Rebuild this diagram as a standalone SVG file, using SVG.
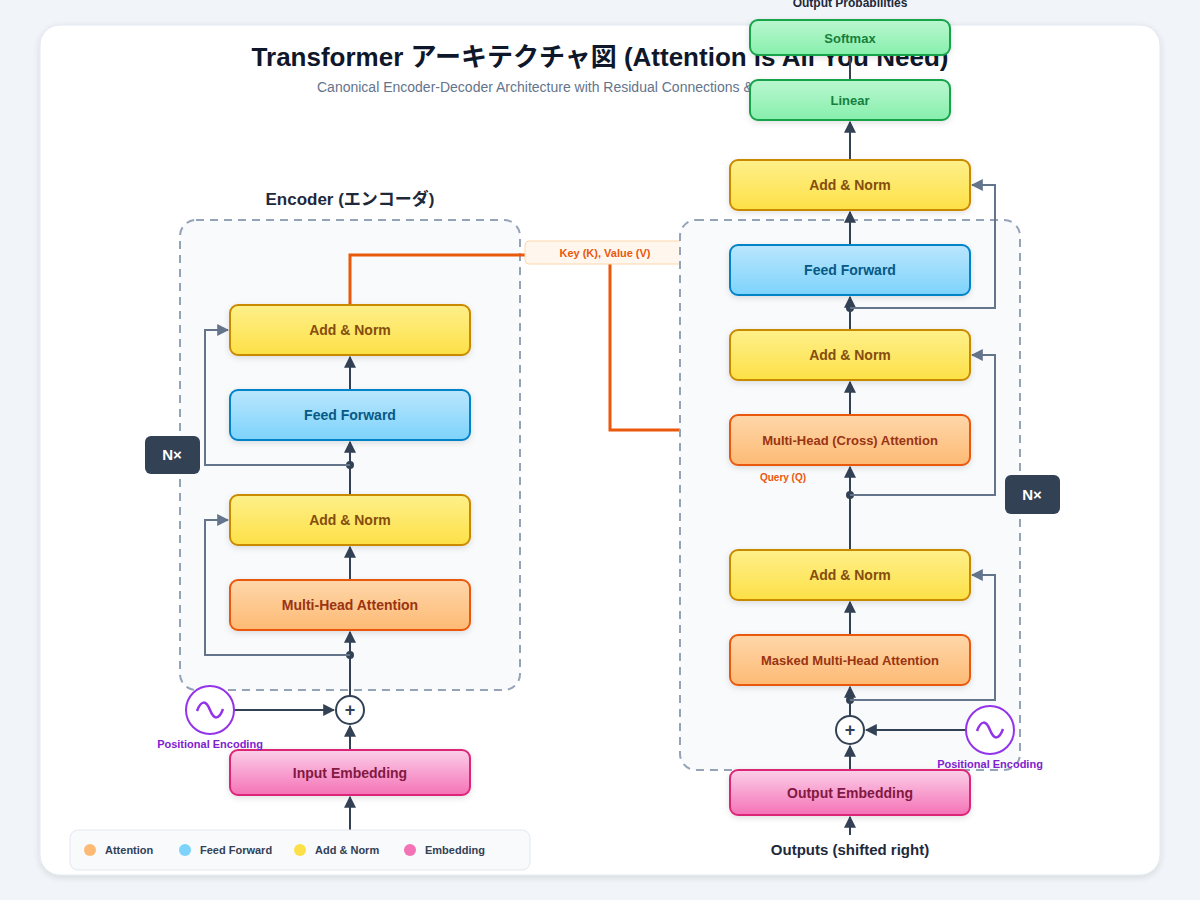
<svg xmlns="http://www.w3.org/2000/svg" width="1200" height="900" viewBox="0 0 1200 900">
<defs>
<linearGradient id="gO" x1="0" y1="0" x2="0" y2="1"><stop offset="0" stop-color="#fed7aa"/><stop offset="1" stop-color="#fdba74"/></linearGradient>
<linearGradient id="gY" x1="0" y1="0" x2="0" y2="1"><stop offset="0" stop-color="#fef08a"/><stop offset="1" stop-color="#fde047"/></linearGradient>
<linearGradient id="gB" x1="0" y1="0" x2="0" y2="1"><stop offset="0" stop-color="#bae6fd"/><stop offset="1" stop-color="#7dd3fc"/></linearGradient>
<linearGradient id="gP" x1="0" y1="0" x2="0" y2="1"><stop offset="0" stop-color="#fbcfe8"/><stop offset="1" stop-color="#f472b6"/></linearGradient>
<linearGradient id="gG" x1="0" y1="0" x2="0" y2="1"><stop offset="0" stop-color="#bbf7d0"/><stop offset="1" stop-color="#86efac"/></linearGradient>
<marker id="ar" viewBox="0 0 10 10" refX="9" refY="5" markerWidth="6" markerHeight="6" orient="auto"><path d="M0,0L10,5L0,10z" fill="#334155"/></marker>
<marker id="ag" viewBox="0 0 10 10" refX="9" refY="5" markerWidth="6" markerHeight="6" orient="auto"><path d="M0,0L10,5L0,10z" fill="#64748b"/></marker>
<filter id="sh" x="-10%" y="-10%" width="120%" height="130%"><feDropShadow dx="0" dy="2" stdDeviation="3" flood-color="#000" flood-opacity="0.12"/></filter>
</defs>
<style>
text{font-family:"Liberation Sans","Noto Sans CJK JP",sans-serif}
.n{stroke-width:2;filter:url(#sh)}
.o{fill:url(#gO);stroke:#ea580c}.y{fill:url(#gY);stroke:#ca8a04}.b{fill:url(#gB);stroke:#0284c7}.p{fill:url(#gP);stroke:#db2777}.g{fill:url(#gG);stroke:#16a34a}
.t{font-size:14px;font-weight:bold;text-anchor:middle}
.to{fill:#9a3412}.ty{fill:#854d0e}.tb{fill:#075985}.tp{fill:#831843}.tg{fill:#15803d}
.c{fill:none;stroke:#334155;stroke-width:2}
.r{fill:none;stroke:#64748b;stroke-width:2}
.cont{fill:#f8fafc;stroke:#94a3b8;stroke-width:2;stroke-dasharray:8 6}
.pe{font-size:11px;font-weight:bold;fill:#7e22ce;text-anchor:middle}
.lg{font-size:11px;font-weight:bold;fill:#334155}
</style>
<rect width="1200" height="900" fill="#f1f5f9"/>
<rect x="40" y="25" width="1120" height="850" rx="20" fill="#fff" stroke="#e2e8f0" filter="url(#sh)"/>
<text x="600" y="66" font-size="26" font-weight="bold" fill="#0f172a" text-anchor="middle">Transformer アーキテクチャ図 (Attention is All You Need)</text>
<text x="317" y="92" font-size="14" fill="#64748b">Canonical Encoder-Decoder Architecture with Residual Connections &amp; Layer Normalization</text>

<text x="350" y="205" font-size="17" font-weight="bold" fill="#1e293b" text-anchor="middle">Encoder (エンコーダ)</text>
<rect class="cont" x="180" y="220" width="340" height="470" rx="16"/>

<g id="connectors-cross">
<polyline points="350,305 350,255 525,255" fill="none" stroke="#ea580c" stroke-width="3"/>
<polyline points="610,264 610,430 680,430" fill="none" stroke="#ea580c" stroke-width="3"/>
<rect x="525" y="241" width="160" height="23" rx="4" fill="#fff7ed" stroke="#fed7aa"/>
<text x="605" y="257" font-size="11" font-weight="bold" fill="#ea580c" text-anchor="middle">Key (K), Value (V)</text>
</g>
<rect class="cont" x="680" y="220" width="340" height="550" rx="16"/>

<g id="connectors">
<line class="c" x1="350" y1="830" x2="350" y2="797" marker-end="url(#ar)"/>
<line class="c" x1="350" y1="750" x2="350" y2="726" marker-end="url(#ar)"/>
<line class="c" x1="234" y1="710" x2="334" y2="710" marker-end="url(#ar)"/>
<line class="c" x1="350" y1="696" x2="350" y2="632" marker-end="url(#ar)"/>
<circle cx="350" cy="655" r="4" fill="#334155"/>
<polyline class="r" points="350,655 205,655 205,520 228,520" marker-end="url(#ag)"/>
<line class="c" x1="350" y1="580" x2="350" y2="547" marker-end="url(#ar)"/>
<line class="c" x1="350" y1="495" x2="350" y2="442" marker-end="url(#ar)"/>
<circle cx="350" cy="465" r="4" fill="#334155"/>
<polyline class="r" points="350,465 205,465 205,330 228,330" marker-end="url(#ag)"/>
<line class="c" x1="350" y1="390" x2="350" y2="357" marker-end="url(#ar)"/>

<line class="c" x1="850" y1="835" x2="850" y2="817" marker-end="url(#ar)"/>
<line class="c" x1="850" y1="770" x2="850" y2="746" marker-end="url(#ar)"/>
<line class="c" x1="966" y1="730" x2="866" y2="730" marker-end="url(#ar)"/>
<line class="c" x1="850" y1="716" x2="850" y2="687" marker-end="url(#ar)"/>
<circle cx="850" cy="700" r="4" fill="#334155"/>
<polyline class="r" points="850,700 995,700 995,575 972,575" marker-end="url(#ag)"/>
<line class="c" x1="850" y1="635" x2="850" y2="602" marker-end="url(#ar)"/>
<line class="c" x1="850" y1="550" x2="850" y2="467" marker-end="url(#ar)"/>
<circle cx="850" cy="495" r="4" fill="#334155"/>
<polyline class="r" points="850,495 995,495 995,355 972,355" marker-end="url(#ag)"/>
<line class="c" x1="850" y1="415" x2="850" y2="382" marker-end="url(#ar)"/>
<line class="c" x1="850" y1="330" x2="850" y2="297" marker-end="url(#ar)"/>
<circle cx="850" cy="308" r="4" fill="#334155"/>
<polyline class="r" points="850,308 995,308 995,185 972,185" marker-end="url(#ag)"/>
<line class="c" x1="850" y1="245" x2="850" y2="212" marker-end="url(#ar)"/>
<line class="c" x1="850" y1="160" x2="850" y2="122" marker-end="url(#ar)"/>
<line class="c" x1="850" y1="80" x2="850" y2="57"/>
</g>

<g id="enc-an2"><rect class="n y" x="230" y="305" width="240" height="50" rx="8"/><text class="t ty" x="350" y="335">Add &amp; Norm</text></g>
<g id="enc-ff"><rect class="n b" x="230" y="390" width="240" height="50" rx="8"/><text class="t tb" x="350" y="420">Feed Forward</text></g>
<g id="enc-an1"><rect class="n y" x="230" y="495" width="240" height="50" rx="8"/><text class="t ty" x="350" y="525">Add &amp; Norm</text></g>
<g id="enc-mha"><rect class="n o" x="230" y="580" width="240" height="50" rx="8"/><text class="t to" x="350" y="610">Multi-Head Attention</text></g>
<g id="enc-emb"><rect class="n p" x="230" y="750" width="240" height="45" rx="8"/><text class="t tp" x="350" y="778">Input Embedding</text></g>
<g id="enc-plus"><circle cx="350" cy="710" r="14" fill="#fff" stroke="#334155" stroke-width="2"/><text x="350" y="716" font-size="18" font-weight="bold" fill="#334155" text-anchor="middle">+</text></g>
<g id="enc-pe"><circle cx="210" cy="710" r="24" fill="#fff" stroke="#9333ea" stroke-width="2"/><path d="M197,711 C201,700 206,700 210,710 C214,720 219,720 223,709" fill="none" stroke="#9333ea" stroke-width="2.5"/><text class="pe" x="210" y="748">Positional Encoding</text></g>
<g id="enc-nx"><rect x="145" y="436" width="55" height="38" rx="6" fill="#334155"/><text x="172" y="460" font-size="15" font-weight="bold" fill="#fff" text-anchor="middle">N×</text></g>

<g id="dec-an3"><rect class="n y" x="730" y="160" width="240" height="50" rx="8"/><text class="t ty" x="850" y="190">Add &amp; Norm</text></g>
<g id="dec-ff"><rect class="n b" x="730" y="245" width="240" height="50" rx="8"/><text class="t tb" x="850" y="275">Feed Forward</text></g>
<g id="dec-an2"><rect class="n y" x="730" y="330" width="240" height="50" rx="8"/><text class="t ty" x="850" y="360">Add &amp; Norm</text></g>
<g id="dec-cross"><rect class="n o" x="730" y="415" width="240" height="50" rx="8"/><text class="t to" x="850" y="445" style="font-size:13px">Multi-Head (Cross) Attention</text><text x="783" y="481" font-size="10" font-weight="bold" fill="#ea580c" text-anchor="middle">Query (Q)</text></g>
<g id="dec-an1"><rect class="n y" x="730" y="550" width="240" height="50" rx="8"/><text class="t ty" x="850" y="580">Add &amp; Norm</text></g>
<g id="dec-mmha"><rect class="n o" x="730" y="635" width="240" height="50" rx="8"/><text class="t to" x="850" y="665" style="font-size:13px">Masked Multi-Head Attention</text></g>
<g id="dec-emb"><rect class="n p" x="730" y="770" width="240" height="45" rx="8"/><text class="t tp" x="850" y="798">Output Embedding</text></g>
<g id="dec-plus"><circle cx="850" cy="730" r="14" fill="#fff" stroke="#334155" stroke-width="2"/><text x="850" y="736" font-size="18" font-weight="bold" fill="#334155" text-anchor="middle">+</text></g>
<g id="dec-pe"><circle cx="990" cy="730" r="24" fill="#fff" stroke="#9333ea" stroke-width="2"/><path d="M977,731 C981,720 986,720 990,730 C994,740 999,740 1003,729" fill="none" stroke="#9333ea" stroke-width="2.5"/><text class="pe" x="990" y="768">Positional Encoding</text></g>
<g id="dec-nx"><rect x="1005" y="475" width="55" height="39" rx="6" fill="#334155"/><text x="1032" y="500" font-size="15" font-weight="bold" fill="#fff" text-anchor="middle">N×</text></g>
<g id="linear"><rect class="n g" x="750" y="80" width="200" height="40" rx="8"/><text class="t tg" x="850" y="105" style="font-size:13px">Linear</text></g>
<g id="softmax"><rect class="n g" x="750" y="20" width="200" height="35" rx="8"/><text class="t tg" x="850" y="43" style="font-size:13px">Softmax</text></g>
<text x="850" y="7" font-size="12" font-weight="bold" fill="#1e293b" text-anchor="middle">Output Probabilities</text>
<text x="850" y="855" font-size="15" font-weight="bold" fill="#1e293b" text-anchor="middle">Outputs (shifted right)</text>

<g id="legend">
<rect x="70" y="830" width="460" height="40" rx="8" fill="#f8fafc" stroke="#e2e8f0"/>
<circle cx="90" cy="850" r="6" fill="#fdba74"/><text class="lg" x="105" y="854">Attention</text>
<circle cx="185" cy="850" r="6" fill="#7dd3fc"/><text class="lg" x="200" y="854">Feed Forward</text>
<circle cx="300" cy="850" r="6" fill="#fde047"/><text class="lg" x="315" y="854">Add &amp; Norm</text>
<circle cx="410" cy="850" r="6" fill="#f472b6"/><text class="lg" x="425" y="854">Embedding</text>
</g>
</svg>
